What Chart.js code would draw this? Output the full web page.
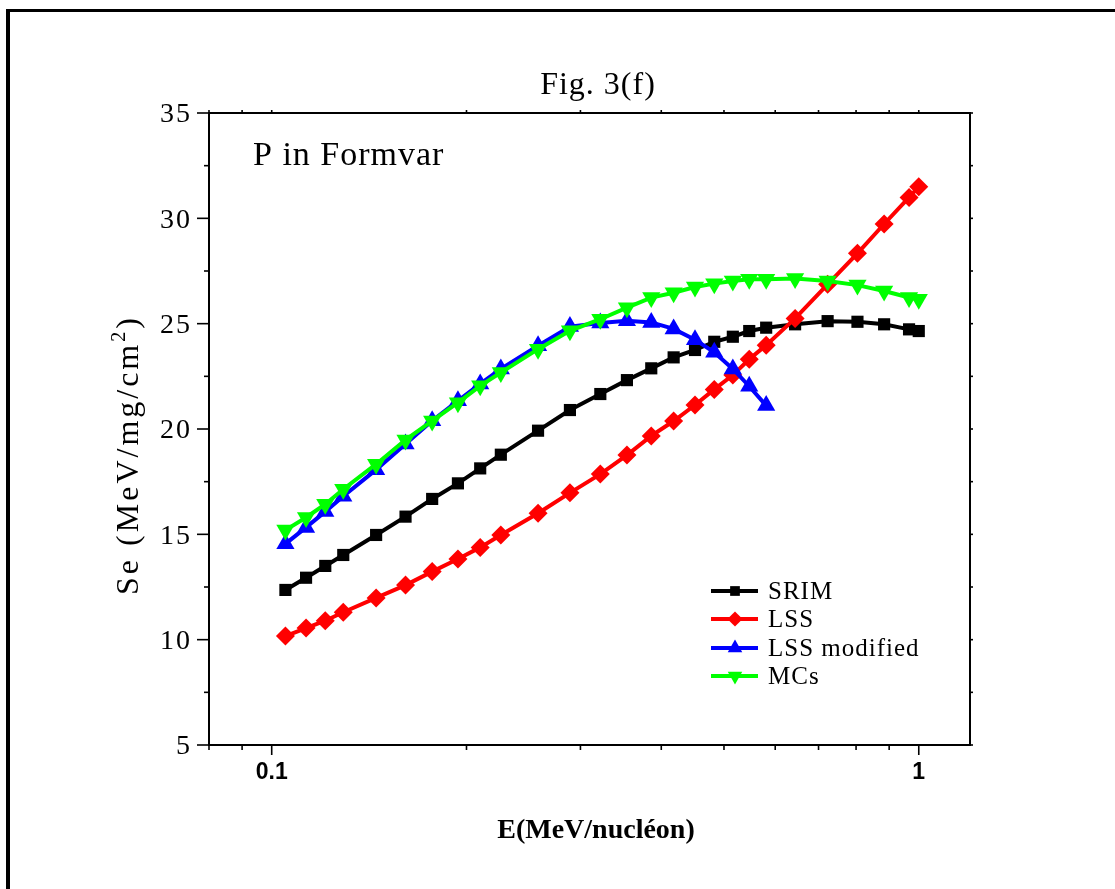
<!DOCTYPE html>
<html>
<head>
<meta charset="utf-8">
<script src="https://cdn.jsdelivr.net/npm/chart.js@4.4.1/dist/chart.umd.min.js"></script>
<style>
  html, body { margin: 0; padding: 0; background: #fff; }
  #wrap { width: 1115px; height: 889px; }
</style>
</head>
<body>
<div id="wrap"><canvas id="fig" width="1115" height="889"></canvas></div>
<script>
// Se vs E for P in Formvar
const energy = [0.105, 0.113, 0.121, 0.129, 0.145, 0.161, 0.177, 0.194, 0.210, 0.226,
                0.258, 0.289, 0.322, 0.354, 0.386, 0.418, 0.451, 0.483, 0.516, 0.547,
                0.581, 0.644, 0.723, 0.804, 0.884, 0.966, 1.0];
const srim = [12.36, 12.94, 13.50, 14.02, 14.97, 15.84, 16.68, 17.42, 18.13, 18.78,
              19.92, 20.90, 21.66, 22.32, 22.88, 23.40, 23.75, 24.14, 24.38, 24.65,
              24.81, 24.97, 25.12, 25.09, 24.97, 24.73, 24.65];
const lss = [10.17, 10.55, 10.90, 11.30, 11.98, 12.59, 13.23, 13.83, 14.38, 14.97,
             16.00, 16.97, 17.86, 18.76, 19.67, 20.38, 21.14, 21.88, 22.56, 23.31,
             23.98, 25.25, 26.87, 28.34, 29.73, 30.99, 31.50];
const lssModified = [14.55, 15.33, 16.08, 16.81, 18.07, 19.29, 20.39, 21.34, 22.14, 22.85,
                     23.95, 24.86, 25.03, 25.14, 25.06, 24.75, 24.24, 23.64, 22.85, 22.03,
                     21.11];
const mcs = [15.20, 15.80, 16.43, 17.14, 18.33, 19.48, 20.38, 21.25, 22.05, 22.68,
             23.79, 24.66, 25.21, 25.76, 26.24, 26.47, 26.74, 26.90, 27.03, 27.11,
             27.11, 27.14, 27.03, 26.83, 26.55, 26.24, 26.16];

const xTicks = [0.08, 0.09, 0.1, 0.2, 0.3, 0.4, 0.5, 0.6, 0.7, 0.8, 0.9, 1];
const xLabelValues = [0.1, 1];
const xLabelText = ['0.1', '1'];
const yTicks = [5, 7.5, 10, 12.5, 15, 17.5, 20, 22.5, 25, 27.5, 30, 32.5, 35];
const yLabelValues = [5, 10, 15, 20, 25, 30, 35];

const pts = (ys) => ys.map((y, i) => ({ x: energy[i], y }));

const serif = '"Liberation Serif", "Times New Roman", serif';

const paperPlugin = {
    id: 'paper',
    beforeDraw(chart) {
        const c = chart.ctx;
        c.save();
        c.fillStyle = '#fff';
        c.fillRect(0, 0, chart.width, chart.height);
        c.restore();
    },
    afterDraw(chart) {
        const { ctx: c, chartArea: a, scales: { x, y } } = chart;
        const line = (x1, y1, x2, y2) => { c.beginPath(); c.moveTo(x1, y1); c.lineTo(x2, y2); c.stroke(); };
        c.save();
        c.strokeStyle = '#000';
        c.fillStyle = '#000';

        // plot frame
        c.lineWidth = 2;
        c.strokeRect(a.left, a.top, a.right - a.left, a.bottom - a.top);

        // ticks
        c.lineWidth = 1.6;
        y.ticks.forEach(t => {
            const py = y.getPixelForValue(t.value);
            const len = t.value % 5 === 0 ? 12 : 5;
            line(a.left - len, py, a.left, py);
            line(a.right, py, a.right + 3, py);
        });
        x.ticks.forEach(t => {
            const px = x.getPixelForValue(t.value);
            const lg = Math.log10(t.value);
            const len = Math.abs(lg - Math.round(lg)) < 1e-6 ? 10 : 5;
            line(px, a.bottom, px, a.bottom + len);
            line(px, a.top, px, a.top - 3);
        });

        // y tick labels
        c.font = '28px ' + serif;
        c.letterSpacing = '2px';
        c.textAlign = 'right';
        c.textBaseline = 'middle';
        yLabelValues.forEach(v => c.fillText(String(v), 192, y.getPixelForValue(v) + 2));

        // x tick labels
        c.letterSpacing = '0px';
        c.font = 'bold 23px "Liberation Sans Narrow", "Arial Narrow", "Liberation Sans", sans-serif';
        c.textAlign = 'center';
        xLabelValues.forEach((v, i) => c.fillText(xLabelText[i], x.getPixelForValue(v), 773));

        // x title
        c.font = 'bold 28px ' + serif;
        c.fillText('E(MeV/nucléon)', 596, 831);

        // figure title
        c.font = '32px ' + serif;
        c.letterSpacing = '1px';
        c.fillText('Fig. 3(f)', 598, 86);

        // annotation
        c.font = '34px ' + serif;
        c.textAlign = 'left';
        c.textBaseline = 'alphabetic';
        c.fillText('P in Formvar', 253, 165);

        // y title, rotated, with superscript
        c.save();
        c.translate(130, 455);
        c.rotate(-Math.PI / 2);
        c.letterSpacing = '3px';
        c.textBaseline = 'middle';
        const main = 'Se (MeV/mg/cm';
        c.font = '32px ' + serif;
        const w1 = c.measureText(main).width;
        const w3 = c.measureText(')').width;
        c.font = '20px ' + serif;
        const w2 = c.measureText('2').width;
        let sx = -(w1 + w2 + w3) / 2;
        c.font = '32px ' + serif;
        c.fillText(main, sx, 0);
        c.font = '20px ' + serif;
        c.fillText('2', sx + w1, -10);
        c.font = '32px ' + serif;
        c.fillText(')', sx + w1 + w2, 0);
        c.restore();

        // legend
        const rowY = [591, 619, 648, 676];
        c.font = '25px ' + serif;
        c.letterSpacing = '1px';
        c.textBaseline = 'middle';
        chart.data.datasets.forEach((ds, i) => {
            const yy = rowY[i];
            c.strokeStyle = ds.borderColor;
            c.lineWidth = 4;
            line(711, yy, 758, yy);
            c.fillStyle = ds.backgroundColor;
            Chart.helpers.drawPoint(c, {
                pointStyle: ds.pointStyle, rotation: ds.pointRotation || 0,
                radius: ds.pointRadius * 0.8, borderWidth: 0
            }, 735, yy);
            c.fillStyle = '#000';
            c.fillText(ds.label, 768, yy + 1);
        });

        // page frame (left and top edges visible)
        c.fillStyle = '#000';
        c.fillRect(6, 9, 1115, 3);
        c.fillRect(6, 9, 4, 889);
        c.restore();
    }
};

const series = (label, ys, color, style, radius, order, rotation) => ({
    label,
    data: pts(ys),
    borderColor: color,
    backgroundColor: color,
    borderWidth: 4,
    pointStyle: style,
    pointRadius: radius,
    pointRotation: rotation || 0,
    pointBorderWidth: 0,
    pointBackgroundColor: color,
    tension: 0,
    order
});

new Chart(document.getElementById('fig'), {
    type: 'line',
    data: {
        datasets: [
            series('SRIM', srim, '#000000', 'rect', 8.6, 4),
            series('LSS', lss, '#ff0000', 'rectRot', 9.5, 3),
            series('LSS modified', lssModified, '#0000ff', 'triangle', 10.5, 2),
            series('MCs', mcs, '#00ff00', 'triangle', 10.5, 1, 180)
        ]
    },
    options: {
        responsive: false,
        animation: false,
        devicePixelRatio: 1,
        layout: { padding: { left: 209, top: 113, right: 145, bottom: 144 } },
        plugins: { legend: { display: false }, tooltip: { enabled: false } },
        scales: {
            x: {
                type: 'logarithmic', min: 0.08, max: 1.2,
                grid: { display: false, drawTicks: false },
                border: { display: false },
                ticks: { display: false },
                afterBuildTicks: (s) => { s.ticks = xTicks.map(v => ({ value: v })); }
            },
            y: {
                type: 'linear', min: 5, max: 35,
                grid: { display: false, drawTicks: false },
                border: { display: false },
                ticks: { display: false },
                afterBuildTicks: (s) => { s.ticks = yTicks.map(v => ({ value: v })); }
            }
        }
    },
    plugins: [paperPlugin]
});
</script>
</body>
</html>
